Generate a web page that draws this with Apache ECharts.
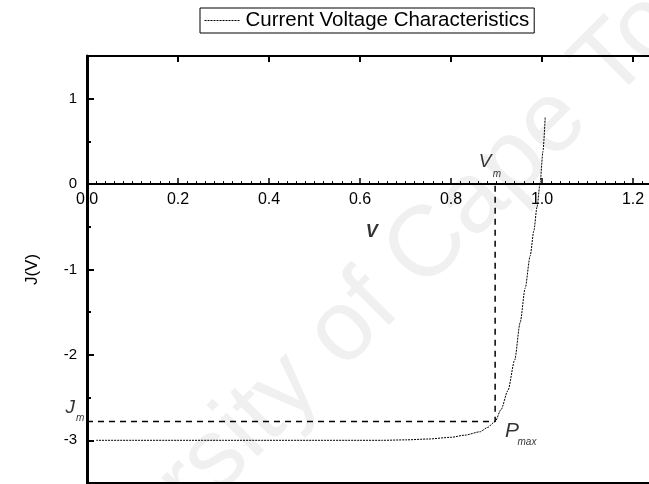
<!DOCTYPE html>
<html>
<head>
<meta charset="utf-8">
<script src="https://cdn.jsdelivr.net/npm/echarts@6/dist/echarts.min.js"></script>
<style>html,body{margin:0;padding:0;background:#fff}#c{width:649px;height:484px}</style>
</head>
<body>
<div id="c"></div>
<script>
// Data
const voltage = [0.02, 0.1, 0.2, 0.3, 0.4, 0.5, 0.6, 0.65, 0.7, 0.75, 0.8, 0.83, 0.864, 0.88, 0.897, 0.91, 0.925, 0.94, 0.952, 0.963, 0.974, 0.982, 0.989, 0.996, 1.002, 1.007];
const current = [-3.0, -3.0, -3.0, -3.0, -3.0, -3.0, -3.0, -3.0, -2.995, -2.985, -2.965, -2.94, -2.9, -2.85, -2.78, -2.64, -2.42, -2.06, -1.62, -1.22, -0.84, -0.55, -0.27, 0.02, 0.38, 0.78];
const Vm = 0.897;
const Jm = -2.78;
const seriesName = 'Current Voltage Characteristics';
// annotation texts: [V, J, text, fontSize, fontWeight]
const annotations = [
  [0.875, 0.26, 'V', 19, 'normal'],
  [0.901, 0.12, 'm', 10, 'normal'],
  [-0.037, -2.62, 'J', 19, 'normal'],
  [-0.015, -2.74, 'm', 10, 'normal'],
  [0.934, -2.89, 'P', 21, 'normal'],
  [0.967, -3.02, 'max', 10, 'normal'],
  [0.626, -0.56, 'V', 18, 'bold']
];

const chart = echarts.init(document.getElementById('c'), null, {renderer: 'canvas'});
const FONT = 'Liberation Sans, Arial, sans-serif';
const curve = voltage.map((v, i) => [v, current[i]]);
const guide = [[0, Jm], [Vm, Jm], [Vm, 0]];
const yMin = -3.5, yMax = 1.5, gridTop = 56, gridH = 427;
const zeroOffset = -(gridH * (0 - yMin) / (yMax - yMin));

chart.setOption({
  animation: false,
  backgroundColor: '#fff',
  graphic: [{
    type: 'text', x: 375, y: 300, rotation: Math.PI / 4, z: -10, silent: true,
    style: {text: 'University of Cape Town', font: '100px ' + FONT, fill: '#f0f0f0', align: 'center', verticalAlign: 'middle'}
  }],
  legend: {
    data: [{name: seriesName, itemStyle: {color: 'transparent', borderWidth: 0, opacity: 0}}], left: 200, top: 8,
    borderColor: '#000', borderWidth: 1, borderRadius: 0,
    padding: [2, 5, 2, 4], itemWidth: 36, itemGap: 4,
    lineStyle: {color: '#000', type: [2, 1], width: 1},
    textStyle: {fontSize: 20.5, fontFamily: FONT, color: '#000'}
  },
  grid: {left: 87, top: gridTop, width: 1.4 * 455, height: gridH, show: false,
    outerBoundsMode: 'none', containLabel: false},
  xAxis: [{
    type: 'value', min: 0, max: 1.4, interval: 0.2, position: 'bottom', offset: zeroOffset,
    axisLine: {onZero: false, lineStyle: {color: '#000', width: 2}},
    axisTick: {inside: true, length: 6, lineStyle: {color: '#000', width: 1.5}},
    minorTick: {show: true, splitNumber: 10, length: 3, lineStyle: {color: '#000', width: 1}},
    splitLine: {show: false},
    axisLabel: {margin: 7, fontSize: 16, fontFamily: FONT, color: '#000', formatter: v => v.toFixed(1)}
  }, {
    type: 'value', min: 0, max: 1.4, interval: 0.2, position: 'top',
    axisLine: {onZero: false, lineStyle: {color: '#000', width: 2}},
    axisTick: {inside: true, length: 6, lineStyle: {color: '#000', width: 2}},
    axisLabel: {show: false}, splitLine: {show: false}
  }, {
    type: 'value', min: 0, max: 1.4, interval: 0.2, position: 'bottom', offset: 0,
    axisLine: {onZero: false, lineStyle: {color: '#000', width: 2}},
    axisTick: {show: false}, axisLabel: {show: false}, splitLine: {show: false}
  }],
  yAxis: {
    type: 'value', min: yMin, max: yMax, splitNumber: 5,
    name: 'J(V)', nameLocation: 'middle', nameGap: 46,
    nameTextStyle: {fontSize: 17, fontFamily: FONT, color: '#000'},
    axisLine: {onZero: false, lineStyle: {color: '#000', width: 3}},
    axisTick: {inside: true, length: 7, lineStyle: {color: '#000', width: 2}},
    minorTick: {show: true, splitNumber: 2, length: 4, lineStyle: {color: '#000', width: 2}},
    splitLine: {show: false},
    axisLabel: {margin: 10, fontSize: 15, fontFamily: FONT, color: '#000', showMinLabel: false, showMaxLabel: false,
      formatter: v => (Number.isInteger(v) ? String(v) : '')}
  },
  series: [{
    name: seriesName, type: 'line', data: curve, symbol: 'none', showSymbol: false, smooth: 0.25, smoothMonotone: 'x',
    itemStyle: {color: '#000'},
    lineStyle: {color: '#000', width: 1, type: [2, 1]}, z: 3
  }, {
    name: 'guide', type: 'line', data: guide, symbol: 'none', showSymbol: false,
    lineStyle: {color: '#000', width: 1.5, type: [6, 5]}, z: 2
  }, {
    name: 'labels', type: 'scatter', clip: false, symbolSize: 0, z: 5,
    data: annotations.map(a => ({
      value: [a[0], a[1]],
      label: {show: true, position: 'inside', formatter: a[2], fontSize: a[3], fontWeight: a[4], fontStyle: 'italic', fontFamily: FONT, color: '#000'}
    }))
  }]
});
</script>
</body>
</html>
